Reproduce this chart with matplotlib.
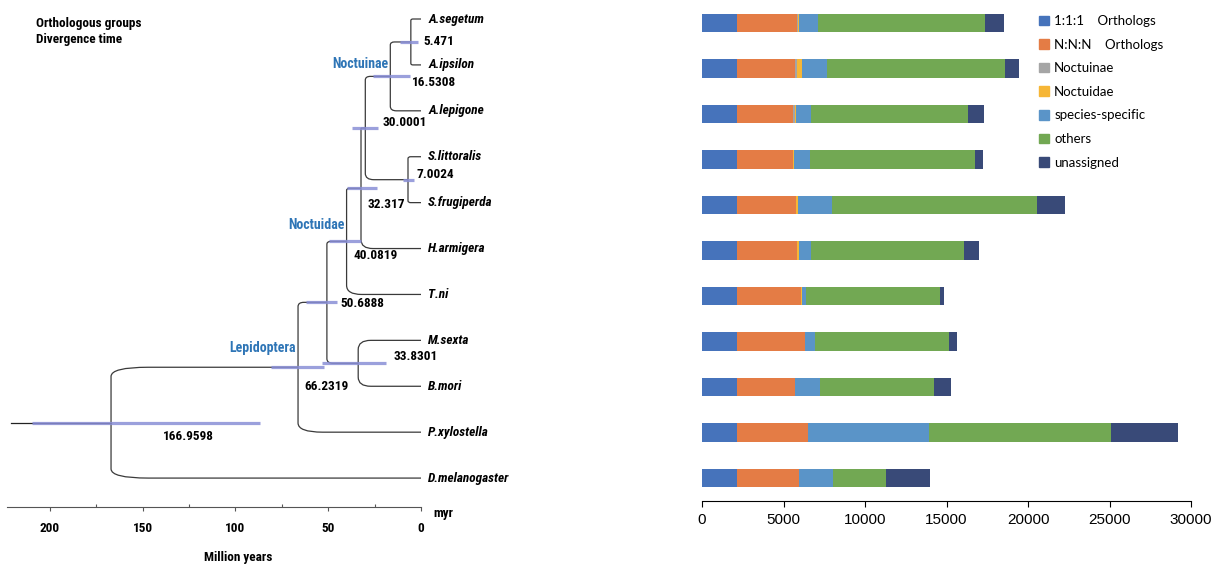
import matplotlib
matplotlib.use('Agg')
import matplotlib.pyplot as plt
from matplotlib.path import Path
from matplotlib.patches import PathPatch, Patch

# species, top to bottom
species = ['A.segetum', 'A.ipsilon', 'A.lepigone', 'S.littoralis', 'S.frugiperda',
           'H.armigera', 'T.ni', 'M.sexta', 'B.mori', 'P.xylostella', 'D.melanogaster']

# tree: internal nodes with children, ages (myr) and 95% HPD
node_names = ['n1', 'n2', 'n3', 'n4', 'n5', 'n6', 'n7', 'n8', 'n9', 'root']
node_children = [('A.segetum', 'A.ipsilon'), ('n1', 'A.lepigone'), ('S.littoralis', 'S.frugiperda'),
                 ('n2', 'n3'), ('n4', 'H.armigera'), ('n5', 'T.ni'), ('M.sexta', 'B.mori'),
                 ('n6', 'n7'), ('n8', 'P.xylostella'), ('n9', 'D.melanogaster')]
node_ages = [5.471, 16.5308, 7.0024, 30.0001, 32.317, 40.0819, 33.8301, 50.6888, 66.2319, 166.9598]
hpd_low = [1.8, 5.8, 4.0, 22.9, 23.6, 32.2, 18.7, 45.0, 52.5, 86.8]
hpd_high = [11.5, 25.9, 9.9, 36.9, 39.9, 49.3, 53.2, 61.9, 80.7, 209.7]
# label positions (myr, row)
label_x = [-1.1, 4.9, 2.4, 20.9, 28.8, 36.4, 14.8, 43.5, 62.8, 138.8]
label_y = [0.49, 1.39, 3.39, 2.26, 4.05, 5.16, 7.36, 6.19, 8.0, 9.1]
clades = ['Noctuinae', 'Noctuidae', 'Lepidoptera']
clade_x = [48.0, 71.6, 103.2]
clade_y = [0.97, 4.49, 7.16]

# orthologous groups per species
categories = ['1:1:1    Orthologs', 'N:N:N    Orthologs', 'Noctuinae', 'Noctuidae',
              'species-specific', 'others', 'unassigned']
one_to_one = [2168, 2168, 2168, 2168, 2168, 2168, 2168, 2168, 2168, 2168, 2168]
n_n_n = [3650, 3556, 3433, 3394, 3599, 3679, 3925, 4172, 3558, 4355, 3803]
noctuinae = [80, 120, 80, 0, 0, 0, 0, 0, 0, 0, 0]
noctuidae = [60, 265, 60, 60, 100, 120, 60, 0, 0, 0, 0]
species_specific = [1160, 1580, 926, 983, 2129, 720, 207, 613, 1493, 7424, 2066]
others = [10266, 10880, 9673, 10164, 12536, 9407, 8221, 8201, 7014, 11125, 3272]
unassigned = [1124, 859, 981, 450, 1738, 879, 286, 490, 1043, 4110, 2658]

colors = ['#4673bb', '#e47c45', '#a5a5a5', '#f6b636', '#5a94c8', '#72a853', '#394a78']

narrow = ['Liberation Sans Narrow', 'Roboto Condensed', 'Open Sans Condensed', 'Noto Sans CJK JP']
blue_txt = '#2e75b6'
tfont = dict(fontweight='bold', family=narrow, fontstretch='condensed')

fig = plt.figure(figsize=(12.17, 5.66), dpi=100)
W, H = 1217, 566

# ---------------- tree ----------------
ax = fig.add_axes([7 / W, 1 - 507 / H, 414 / W, 507 / H])
ax.set_xlim(223, 0)
ax.set_ylim(10.63, -0.414)

age = {s: 0.0 for s in species}
ypos = {s: i for i, s in enumerate(species)}
for n, a in zip(node_names, node_ages):
    age[n] = a
children = dict(zip(node_names, node_children))


def node_y(n):
    if n in ypos:
        return ypos[n]
    ypos[n] = sum(node_y(c) for c in children[n]) / 2
    return ypos[n]


for n in node_names:
    node_y(n)

for n in node_names:
    a, y = age[n], ypos[n]
    for c in children[n]:
        ca, cy = age[c], ypos[c]
        rx = min(0.2 * (a - ca), 20)
        ry = min(0.2, 0.03 * rx)
        sgn = 1 if cy > y else -1
        verts = [(a, y), (a, cy - sgn * ry), (a, cy), (a - rx, cy), (ca, cy)]
        codes = [Path.MOVETO, Path.LINETO, Path.CURVE3, Path.CURVE3, Path.LINETO]
        ax.add_patch(PathPatch(Path(verts, codes), fc='none', ec='#3a3a3a', lw=0.9, zorder=2))

# root stem
ax.plot([age['root'], 221], [ypos['root']] * 2, color='#222222', lw=0.9, zorder=2)

for n, lo, hi in zip(node_names, hpd_low, hpd_high):
    ax.plot([hi, lo], [ypos[n]] * 2, color='#8a8fd6', lw=2.3, alpha=0.85,
            solid_capstyle='butt', zorder=3)

for s in species:
    ax.text(-3.9, ypos[s], s, ha='left', va='center', fontsize=9.5,
            fontstyle='italic', clip_on=False, **tfont)

for a, lx, ly in zip(node_ages, label_x, label_y):
    ax.text(lx, ly, str(a), ha='left', va='center', fontsize=9.5, **tfont)

for c, cx, cy in zip(clades, clade_x, clade_y):
    ax.text(cx, cy, c, ha='left', va='center', fontsize=10, color=blue_txt, **tfont)

for sp in ['left', 'top', 'right']:
    ax.spines[sp].set_visible(False)
ax.spines['bottom'].set_color('#555555')
ax.set_yticks([])
ax.set_xticks([200, 150, 100, 50, 0])
ax.set_xticks([175, 125, 75, 25], minor=True)
ax.tick_params(axis='x', which='major', direction='out', length=3, width=0.8,
               color='#555555', pad=8)
ax.tick_params(axis='x', which='minor', direction='in', length=2, width=0.8, color='#555555')
for lab in ax.get_xticklabels():
    lab.set_fontweight('bold')
    lab.set_family(narrow)
    lab.set_stretch('condensed')
    lab.set_fontsize(9.5)

fig.text(433 / W, 1 - 513 / H, 'myr', ha='left', va='center', fontsize=9.5, **tfont)
fig.text(238.5 / W, 1 - 558 / H, 'Million years', ha='center', va='center', fontsize=9.5, **tfont)
fig.text(36 / W, 1 - 24 / H, 'Orthologous groups', ha='left', va='center', fontsize=9.5, **tfont)
fig.text(36 / W, 1 - 40 / H, 'Divergence time', ha='left', va='center', fontsize=9.5, **tfont)

# ---------------- bars ----------------
bx = fig.add_axes([702 / W, 1 - 501 / H, 489 / W, 501 / H])
series = [one_to_one, n_n_n, noctuinae, noctuidae, species_specific, others, unassigned]
rows = list(range(len(species)))
left = [0] * len(species)
for vals, col, lab in zip(series, colors, categories):
    bx.barh(rows, vals, left=left, height=0.4, color=col, label=lab)
    left = [l + v for l, v in zip(left, vals)]

bx.set_xlim(0, 30000)
bx.set_ylim(10.505, -0.505)
bx.set_xticks(range(0, 30001, 5000))
bx.set_yticks([])
for sp in ['left', 'top', 'right']:
    bx.spines[sp].set_visible(False)
bx.tick_params(axis='x', length=4, width=0.8, pad=5, labelsize=11)
for lab in bx.get_xticklabels():
    lab.set_family('Liberation Sans')

handles = [Patch(color=c) for c in colors]
fig.legend(handles, categories, loc='upper left', bbox_to_anchor=(1039 / W, 1 - 15 / H),
           frameon=False, borderpad=0, borderaxespad=0, handlelength=0.75, handleheight=0.75,
           handletextpad=0.4, labelspacing=0.88, prop={'family': 'Lato', 'size': 9.5})

fig.savefig('out.png', dpi=100)
